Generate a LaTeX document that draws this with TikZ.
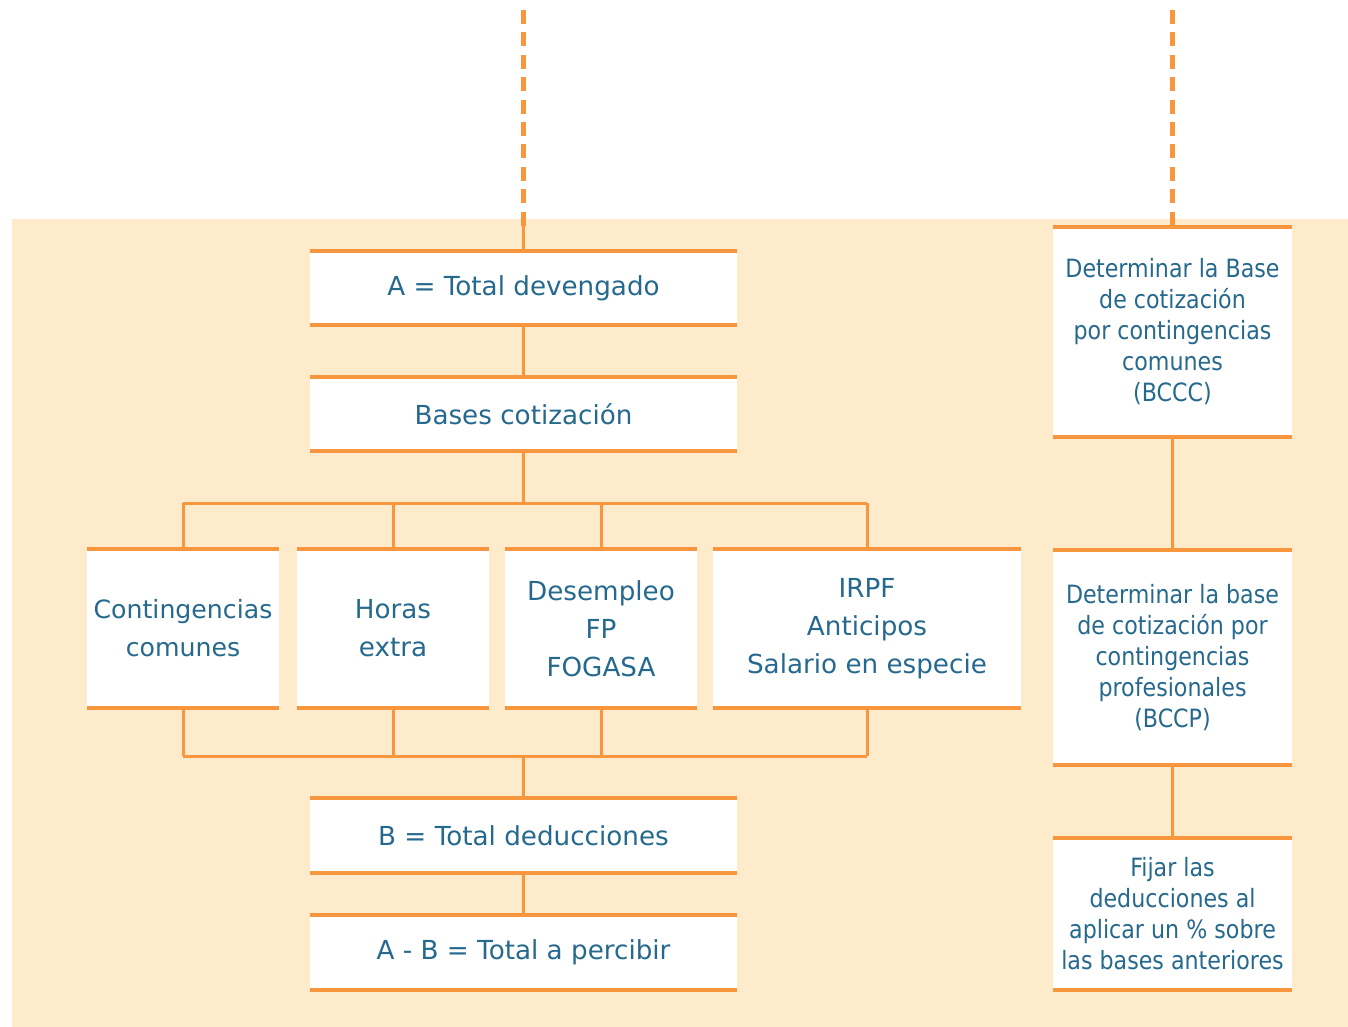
\documentclass[tikz,border=0pt]{standalone}
\usepackage{fontspec}
\setmainfont{DejaVu Sans}
\newfontfamily\narrowfont{DejaVu Sans}[FakeStretch=0.88]
\definecolor{bgc}{HTML}{FEEBCC}
\definecolor{orc}{HTML}{F7963C}
\definecolor{txc}{HTML}{26698E}
\begin{document}
\begin{tikzpicture}[x=0.5pt,y=-0.5pt,
  box/.style 2 args={fill=white, inner sep=0pt, align=center, text=txc,
    font=\fontsize{13.1}{19}\selectfont,
    minimum width=#1*0.5pt, minimum height=#2*0.5pt},
  rbox/.style={font=\narrowfont\fontsize{12.6}{15.5}\selectfont},
  bline/.style={draw=orc, line width=2pt},
  conn/.style={draw=orc, line width=1.5pt},
  dashline/.style={draw=orc, line width=2.5pt, dash pattern=on 7pt off 4.2pt}]
\useasboundingbox (0,0) rectangle (1348,1027);
\fill[bgc] (12,219) rectangle (1348,1027);

% left column
\node[box={427}{74}] (tot) at (523.5,288) {A = Total devengado};
\node[box={427}{74}] (bases) at (523.5,414) {Bases cotización};
\node[box={192}{159}, font=\fontsize{12.6}{19}\selectfont] (cc) at (183,628.5) {Contingencias\\comunes};
\node[box={192}{159}] (he) at (393,628.5) {Horas\\extra};
\node[box={192}{159}] (des) at (601,628.5) {Desempleo\\FP\\FOGASA};
\node[box={308}{159}] (irpf) at (867,628.5) {IRPF\\Anticipos\\Salario en especie};
\node[box={427}{75}] (ded) at (523.5,835.5) {B = Total deducciones};
\node[box={427}{75}] (per) at (523.5,952.5) {A - B = Total a percibir};

% right column
\node[box={239}{210}, rbox] (r1) at (1172.5,332) {Determinar la Base\\de cotización\\por contingencias\\comunes\\(BCCC)};
\node[box={239}{215}, rbox] (r2) at (1172.5,657.5) {Determinar la base\\de cotización por\\contingencias\\profesionales\\(BCCP)};
\node[box={239}{152}, rbox] (r3) at (1172.5,914) {Fijar las\\deducciones al\\aplicar un \% sobre\\las bases anteriores};

\foreach \n in {tot,bases,cc,he,des,irpf,ded,per,r1,r2,r3}
  \draw[bline] (\n.north west) -- (\n.north east) (\n.south west) -- (\n.south east);

% coordinates
\coordinate (topA) at (523.5,10);
\coordinate (endA) at (523.5,226);
\coordinate (topR) at (1172.5,10);
\coordinate (busU) at (523.5,503);
\coordinate (busD) at (523.5,756);

% connectors
\draw[dashline] (topA) -- (endA);
\draw[conn] (endA) -- (tot.north);
\draw[dashline] (topR) -- (r1.north);
\draw[conn] (tot.south) -- (bases.north);
\draw[conn] (bases.south) -- (busU);
\draw[conn] (cc.north |- busU) -- (irpf.north |- busU);
\foreach \n in {cc,he,des,irpf} {
  \draw[conn] (\n.north) -- (\n.north |- busU);
  \draw[conn] (\n.south) -- (\n.south |- busD);
}
\draw[conn] (cc.south |- busD) -- (irpf.south |- busD);
\draw[conn] (busD) -- (ded.north);
\draw[conn] (ded.south) -- (per.north);
\draw[conn] (r1.south) -- (r2.north);
\draw[conn] (r2.south) -- (r3.north);
\end{tikzpicture}
\end{document}
